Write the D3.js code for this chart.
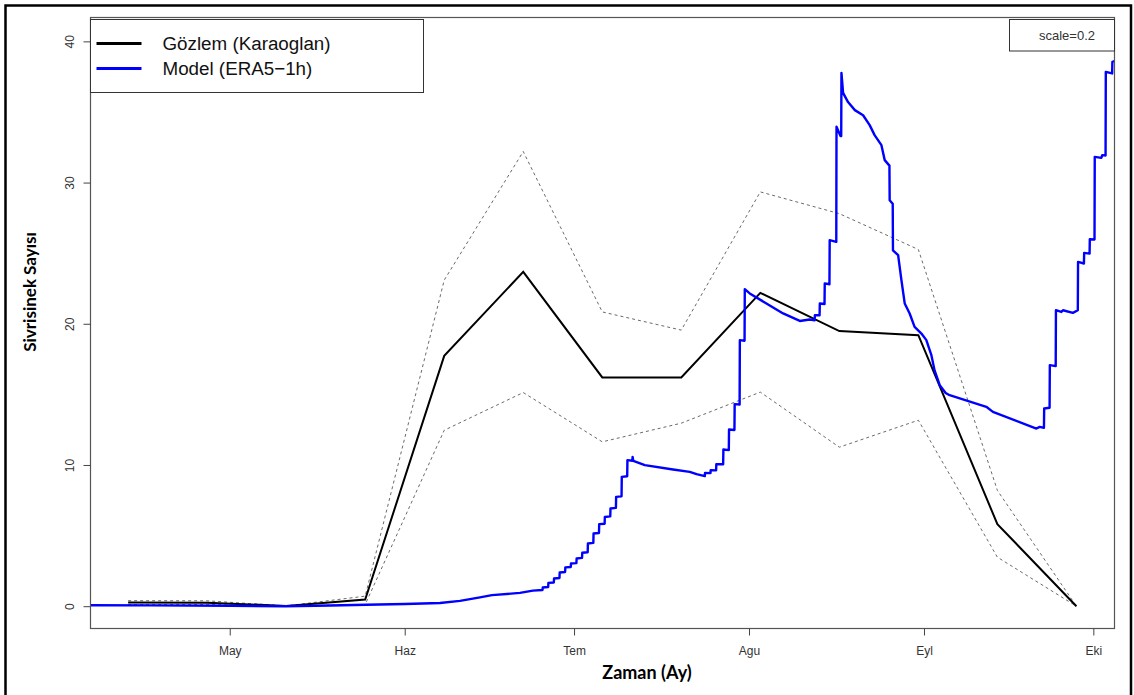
<!DOCTYPE html>
<html>
<head>
<meta charset="utf-8">
<script src="https://cdn.jsdelivr.net/npm/d3@7"></script>
<style>
  html, body { margin: 0; padding: 0; background: #fff; }
  svg { display: block; }
</style>
</head>
<body>
<svg id="chart" width="1134" height="695"></svg>
<script>
// ---------------- data ----------------
const monthTicks  = ["2021-05-01 00", "2021-06-01 00", "2021-07-01 00", "2021-08-01 00", "2021-09-01 00", "2021-10-01 00"];
const monthLabels = ["May", "Haz", "Tem", "Agu", "Eyl", "Eki"];
const yTicks = [0, 10, 20, 30, 40];

const obsDates = ["2021-04-13 00", "2021-04-27 00", "2021-05-11 00", "2021-05-25 00", "2021-06-08 00", "2021-06-22 00",
                  "2021-07-06 00", "2021-07-20 00", "2021-08-03 00", "2021-08-17 00", "2021-08-31 00", "2021-09-14 00", "2021-09-28 00"];
const obsMean  = [0.26, 0.25, 0.02, 0.47, 17.73, 23.68, 16.2, 16.2, 22.19, 19.48, 19.19, 5.81, 0];
const obsUpper = [0.39, 0.38, 0.02, 0.71, 23.09, 32.2, 20.84, 19.55, 29.34, 27.8, 25.26, 8.2, 0];
const obsLower = [0.12, 0.12, 0.0, 0.12, 12.46, 15.13, 11.64, 12.96, 15.16, 11.26, 13.17, 3.47, 0];

const modelTimes = [
 "04-06 08","04-16 22","05-01 02","05-10 19","05-18 19","05-25 04","06-01 01","06-07 06","06-10 19","06-14 08",
 "06-16 11","06-21 10","06-23 17",
 "06-25 10","06-25 11","06-26 10","06-26 11","06-27 10","06-27 11","06-28 10","06-28 11","06-29 10","06-29 11",
 "06-30 10","06-30 11","07-01 10","07-01 11","07-02 10","07-02 11","07-03 10","07-03 11","07-04 10","07-04 11",
 "07-05 10","07-05 11","07-06 10","07-06 11","07-07 10","07-07 11","07-08 10","07-08 11","07-09 10","07-09 11",
 "07-10 10","07-10 11","07-11 08","07-11 09","07-11 12","07-13 13","07-18 13","07-21 12","07-22 17","07-24 04",
 "07-24 05","07-25 04","07-25 05","07-26 04","07-26 05","07-27 10","07-27 11","07-28 10","07-28 11","07-29 10",
 "07-29 11","07-30 08","07-30 09","07-31 05","07-31 06","08-01 03","08-04 02","08-07 01","08-10 00","08-11 18",
 "08-12 15","08-12 16","08-13 12","08-13 13","08-14 09","08-14 10","08-15 06","08-15 07","08-16 11","08-16 12",
 "08-17 05","08-17 08","08-17 09","08-17 16","08-18 13","08-19 18","08-21 05","08-22 09","08-23 06","08-24 11",
 "08-25 01","08-25 21","08-25 22","08-26 11","08-26 12","08-27 10","08-28 00","08-28 14","08-29 11","08-30 08",
 "08-31 13","09-01 10","09-02 07","09-02 21","09-03 19","09-04 20","09-05 13","09-12 01","09-13 05","09-20 22",
 "09-21 12","09-22 06","09-22 07","09-23 06","09-23 07","09-24 08","09-24 09","09-25 08","09-25 15","09-27 09",
 "09-28 06","09-28 07","09-29 08","09-29 09","09-30 08","09-30 09","10-01 05","10-01 06","10-02 10","10-02 14",
 "10-03 04","10-03 05","10-04 08","10-04 09","10-04 18"
];
const modelValues = [
 0.07,0.06,0.03,0.0,0.05,0.1,0.15,0.23,0.38,0.62,
 0.78,0.94,1.1,
 1.15,1.32,1.36,1.65,1.68,1.96,2.0,2.39,2.42,2.75,
 2.78,3.02,3.05,3.38,3.42,3.78,3.82,4.44,4.48,5.15,
 5.18,5.81,5.84,6.32,6.36,6.92,6.96,7.74,7.78,9.16,
 9.2,10.34,10.3,10.57,10.29,9.99,9.68,9.51,9.35,9.21,
 9.44,9.42,9.63,9.62,10.06,10.05,11.1,11.05,12.51,12.48,
 14.31,14.28,18.84,18.8,22.45,22.15,21.44,20.73,20.2,20.3,
 20.25,20.6,20.6,21.44,21.4,22.86,22.8,25.92,25.8,33.95,
 33.3,33.3,37.77,36.35,35.7,35.13,34.77,34.07,33.36,32.65,
 31.59,31.2,28.75,28.5,25.2,24.86,23.09,21.44,20.73,19.78,
 19.31,18.84,17.8,16.7,15.65,15.1,14.94,14.12,13.76,12.58,
 12.7,12.63,14.0,14.05,17.07,17.0,20.96,20.84,20.96,20.77,
 20.96,24.38,24.27,25.02,24.97,25.99,25.97,31.82,31.75,31.94,
 31.92,37.84,37.73,38.55,38.6
];

const legendLabels = ["Gözlem (Karaoglan)", "Model (ERA5\u22121h)"];
const scaleLabel = "scale=0.2";
const xTitle = "Zaman (Ay)";
const yTitle = "Sivrisinek Sayısı";

// ---------------- setup ----------------
const parse = d3.timeParse("%Y-%m-%d %H");
const svg = d3.select("#chart");

const plot = { left: 90.5, right: 1114.5, top: 17.5, bottom: 628.5 };

const x = d3.scaleTime()
  .domain([parse("2021-04-06 08"), parse("2021-10-04 18")])
  .range([plot.left, plot.right]);
const y = d3.scaleLinear()
  .domain([-1.58, 41.69])
  .range([plot.bottom, plot.top]);

// outer frame
svg.append("rect")
  .attr("x", 5.5).attr("y", 5.5).attr("width", 1125.5).attr("height", 710)
  .attr("fill", "none").attr("stroke", "#000").attr("stroke-width", 2.5);

svg.append("defs").append("clipPath").attr("id", "clip")
  .append("rect")
  .attr("x", plot.left).attr("y", plot.top)
  .attr("width", plot.right - plot.left).attr("height", plot.bottom - plot.top);

const obs = obsDates.map((d, i) => ({ t: parse(d), m: obsMean[i], u: obsUpper[i], l: obsLower[i] }));
const model = modelTimes.map((d, i) => ({ t: parse("2021-" + d), v: modelValues[i] }));

const g = svg.append("g").attr("clip-path", "url(#clip)");

// dashed bounds
["u", "l"].forEach(k => {
  g.append("path")
    .datum(obs)
    .attr("fill", "none")
    .attr("stroke", "#6a6a6a")
    .attr("stroke-width", 1)
    .attr("stroke-dasharray", "3,3")
    .attr("d", d3.line().x(d => x(d.t)).y(d => y(d[k])));
});

// observation mean
g.append("path")
  .datum(obs)
  .attr("fill", "none")
  .attr("stroke", "#000")
  .attr("stroke-width", 2)
  .attr("stroke-linejoin", "miter")
  .attr("d", d3.line().x(d => x(d.t)).y(d => y(d.m)));

// model
g.append("path")
  .datum(model)
  .attr("fill", "none")
  .attr("stroke", "#0000ff")
  .attr("stroke-width", 2.4)
  .attr("stroke-linejoin", "round")
  .attr("d", d3.line().x(d => x(d.t)).y(d => y(d.v)));

// plot box
svg.append("rect")
  .attr("x", plot.left).attr("y", plot.top)
  .attr("width", plot.right - plot.left).attr("height", plot.bottom - plot.top)
  .attr("fill", "none").attr("stroke", "#555").attr("stroke-width", 1.2);

// x axis
const xAxis = svg.append("g")
  .attr("transform", `translate(0,${plot.bottom})`)
  .call(d3.axisBottom(x)
    .tickValues(monthTicks.map(parse))
    .tickFormat((d, i) => monthLabels[i])
    .tickSize(7)
    .tickPadding(11));
xAxis.select(".domain").remove();
xAxis.selectAll(".tick line").attr("stroke", "#444");
xAxis.selectAll("text")
  .attr("font-family", "Liberation Sans, Arial, sans-serif")
  .attr("font-size", 12).attr("fill", "#333");

// y axis
const yAxis = svg.append("g")
  .attr("transform", `translate(${plot.left},0)`)
  .call(d3.axisLeft(y).tickValues(yTicks).tickSize(7));
yAxis.select(".domain").remove();
yAxis.selectAll(".tick line").attr("stroke", "#444");
yAxis.selectAll("text")
  .attr("x", 0).attr("dy", 0)
  .attr("text-anchor", "middle")
  .attr("transform", "translate(-17,0) rotate(-90)")
  .attr("font-family", "Liberation Sans, Arial, sans-serif")
  .attr("font-size", 12).attr("fill", "#333");

// axis titles
svg.append("text")
  .attr("x", 647).attr("y", 679)
  .attr("text-anchor", "middle")
  .attr("font-family", "Lato, sans-serif").attr("font-weight", 700)
  .attr("font-size", 18).attr("fill", "#000")
  .text(xTitle);

svg.append("text")
  .attr("transform", "translate(36,292) rotate(-90)")
  .attr("text-anchor", "middle")
  .attr("font-family", "Lato, sans-serif").attr("font-weight", 700)
  .attr("font-size", 17).attr("fill", "#000")
  .text(yTitle);

// legend
const leg = svg.append("g");
leg.append("rect")
  .attr("x", 90.5).attr("y", 19.5).attr("width", 333).attr("height", 73)
  .attr("fill", "#fff").attr("stroke", "#333").attr("stroke-width", 1);
const legColors = ["#000", "#0000ff"];
const legY = [43.5, 68.5];
legendLabels.forEach((lab, i) => {
  leg.append("line")
    .attr("x1", 96.5).attr("x2", 141.5)
    .attr("y1", legY[i]).attr("y2", legY[i])
    .attr("stroke", legColors[i]).attr("stroke-width", 3);
  leg.append("text")
    .attr("x", 162.5).attr("y", legY[i] + 6.8)
    .attr("font-family", "Liberation Sans, Arial, sans-serif")
    .attr("font-size", 18.8).attr("fill", "#111")
    .text(lab);
});

// scale box
svg.append("rect")
  .attr("x", 1009.5).attr("y", 19.5).attr("width", 105).attr("height", 31.5)
  .attr("fill", "#fff").attr("stroke", "#333").attr("stroke-width", 1);
svg.append("text")
  .attr("x", 1067).attr("y", 40)
  .attr("text-anchor", "middle")
  .attr("font-family", "Liberation Sans, Arial, sans-serif")
  .attr("font-size", 13).attr("fill", "#333")
  .text(scaleLabel);
</script>
</body>
</html>
